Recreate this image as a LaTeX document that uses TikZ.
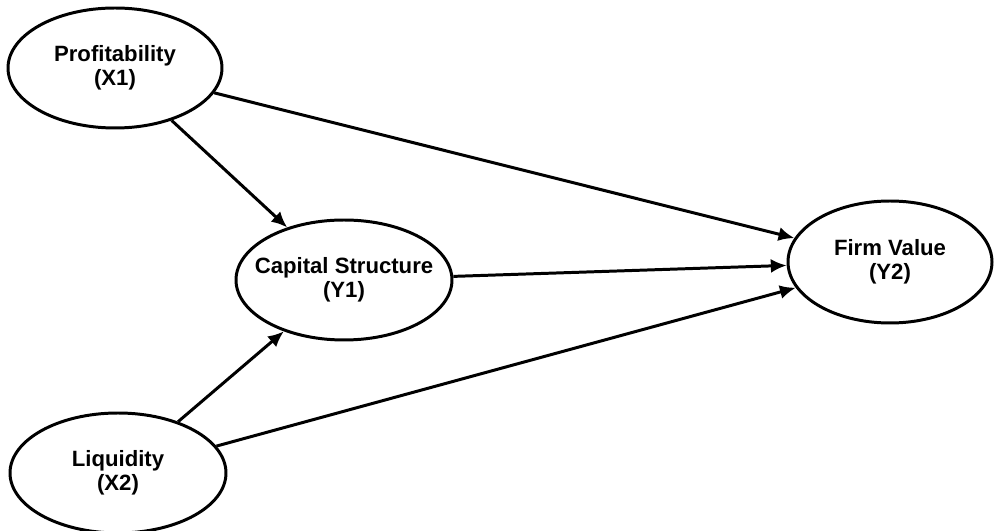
\documentclass[tikz,border=0pt]{standalone}
\usepackage{fontspec}
\setmainfont{Liberation Sans}
\usetikzlibrary{shapes.geometric,arrows.meta}

\begin{document}
\begin{tikzpicture}[
    var/.style={ellipse, draw, line width=1.7pt, inner sep=0pt,
        align=center, font=\bfseries\fontsize{12.6}{13.6}\selectfont},
    path/.style={line width=1.7pt, -{Latex[length=9pt,width=8pt]}}]
\useasboundingbox (0,0) rectangle (19.88,10.62);
%Put the four variables down first, then draw the paths
% between them (every path goes centre to centre, so
% the arrows meet the ellipses where they should)
\node[var, minimum width=4.28cm, minimum height=2.40cm] (x1) at (2.30,9.26) {Profitability\\(X1)};
\node[var, inner xsep=-0.27cm, minimum width=4.32cm, minimum height=2.40cm] (y1) at (6.88,5.02) {Capital Structure\\(Y1)};
\node[var, minimum width=4.08cm, minimum height=2.44cm] (y2) at (17.80,5.38) {Firm Value\\(Y2)};
\node[var, minimum width=4.32cm, minimum height=2.40cm] (x2) at (2.36,1.16) {Liquidity\\(X2)};
%paths
\draw[path] (x1) to (y1);
\draw[path] (x1) to (y2);
\draw[path] (y1) to (y2);
\draw[path] (x2) to (y1);
\draw[path] (x2) to (y2);
\end{tikzpicture}
\end{document}
